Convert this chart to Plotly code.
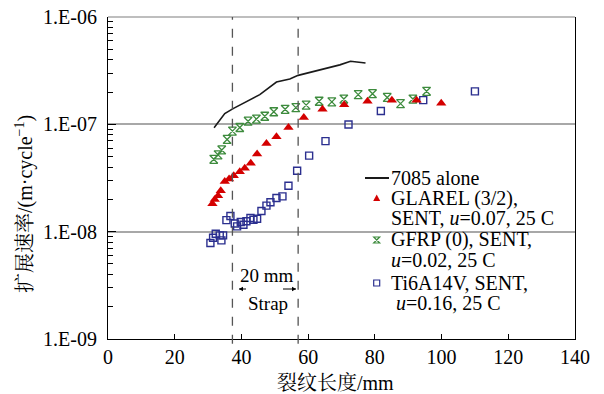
import plotly.graph_objects as go

# ---------------- data ----------------
x_7085 = [31.8, 35.0, 37.5, 45.5, 50.5, 54.5, 57.0, 64.5, 69.5, 72.7, 77.2]
y_7085 = [9.3e-8, 1.26e-7, 1.40e-7, 1.89e-7, 2.48e-7, 2.65e-7, 2.86e-7, 3.25e-7, 3.58e-7, 3.87e-7, 3.73e-7]

x_glarel = [31.3, 32.0, 33.0, 33.8, 35.0, 36.3, 37.7, 39.5, 41.0, 42.8, 44.7, 47.5, 50.5, 54.1,
            58.7, 64.3, 70.8, 77.8, 85.1, 92.5, 99.9]
y_glarel = [1.82e-8, 1.99e-8, 2.16e-8, 2.41e-8, 2.94e-8, 3.09e-8, 3.31e-8, 3.61e-8, 3.90e-8, 4.34e-8,
            5.30e-8, 6.64e-8, 7.66e-8, 9.34e-8, 1.16e-7, 1.38e-7, 1.52e-7, 1.64e-7, 1.68e-7, 1.68e-7, 1.57e-7]

x_gfrp = [31.7, 33.0, 34.1, 35.7, 37.3, 39.5, 42.0, 44.5, 47.0, 49.7, 53.1, 56.3, 59.4, 63.3,
          67.1, 70.7, 75.0, 79.3, 83.7, 87.7, 91.4, 95.5]
y_gfrp = [4.72e-8, 5.19e-8, 5.77e-8, 7.23e-8, 8.65e-8, 9.34e-8, 1.07e-7, 1.12e-7, 1.19e-7, 1.31e-7,
          1.38e-7, 1.43e-7, 1.51e-7, 1.64e-7, 1.62e-7, 1.72e-7, 1.89e-7, 1.93e-7, 1.78e-7, 1.56e-7,
          1.72e-7, 2.03e-7]

x_ti = [30.7, 31.5, 32.3, 33.5, 34.0, 34.5, 35.5, 36.7, 38.0, 38.7, 39.8, 40.6, 41.5, 42.7, 43.6,
        44.7, 46.0, 47.5, 48.7, 50.5, 52.3, 54.1, 56.7, 60.3, 65.2, 72.1, 81.8, 94.5, 110.0]
y_ti = [7.84e-9, 8.77e-9, 9.55e-9, 9.23e-9, 8.29e-9, 9.23e-9, 1.28e-8, 1.40e-8, 1.19e-8, 1.12e-8,
        1.23e-8, 1.16e-8, 1.25e-8, 1.34e-8, 1.29e-8, 1.32e-8, 1.56e-8, 1.75e-8, 1.88e-8, 2.06e-8,
        2.13e-8, 2.68e-8, 3.70e-8, 5.11e-8, 6.98e-8, 9.95e-8, 1.33e-7, 1.68e-7, 2.03e-7]

strap_edges = [37.3, 57.0]

x_ticks = [0, 20, 40, 60, 80, 100, 120, 140]
y_ticks = [1e-9, 1e-8, 1e-7, 1e-6]
y_ticktext = ["1.E-09", "1.E-08", "1.E-07", "1.E-06"]

legend_lines = [
    "7085 alone",
    "GLAREL (3/2),",
    "SENT, <i>u</i>=0.07, 25 C",
    "GFRP (0), SENT,",
    "<i>u</i>=0.02, 25 C",
    "Ti6A14V, SENT,",
    " <i>u</i>=0.16, 25 C",
]

# ---------------- layout helpers ----------------
OFF = 8                      # page (body) margin around the figure
W, H = 604 - OFF, 394 - OFF
ML, MR, MT, MB = 100, 29, 9, 55
PW, PH = W - ML - MR, H - MT - MB


def px(xp):
    """absolute page x pixel -> paper x"""
    return (xp - OFF - ML) / PW


def py(yp):
    """absolute page y pixel -> paper y"""
    return (OFF + MT + PH - yp) / PH


SERIF = "Liberation Serif, Times New Roman, serif"
RED = "#d40000"
GREEN = "#3d8b3d"
BLUE = "#2b2f8f"
GRID = "#a8a8a8"

fig = go.Figure()
fig.add_trace(go.Scatter(x=x_7085, y=y_7085, mode="lines",
                         line=dict(color="#1a1a1a", width=1.6)))
fig.add_trace(go.Scatter(x=x_gfrp, y=y_gfrp, mode="markers",
                         marker=dict(symbol="hourglass-open", size=8, color=GREEN,
                                     line=dict(color=GREEN, width=1.3))))
fig.add_trace(go.Scatter(x=x_ti, y=y_ti, mode="markers",
                         marker=dict(symbol="square-open", size=7, color=BLUE,
                                     line=dict(color=BLUE, width=1.4))))
fig.add_trace(go.Scatter(x=x_glarel, y=y_glarel, mode="markers",
                         marker=dict(symbol="triangle-up", size=9, color=RED,
                                     line=dict(width=0))))

minor_vals = [m * 10 ** e for e in (-9, -8, -7) for m in range(2, 10)]

fig.update_layout(
    width=W, height=H,
    margin=dict(l=ML, r=MR, t=MT, b=MB, autoexpand=False),
    paper_bgcolor="white", plot_bgcolor="white",
    showlegend=False,
    font=dict(family=SERIF, size=20, color="black"),
    xaxis=dict(range=[0, 140], tickvals=x_ticks, ticks="inside", ticklen=5,
               tickcolor="black", showline=True, linecolor="black", linewidth=1,
               showgrid=False, zeroline=False, mirror=False,
               ticklabeloverflow="allow",
               tickfont=dict(family=SERIF, size=20)),
    yaxis=dict(type="log", range=[-9.00001, -5.99999], tickvals=y_ticks, ticktext=y_ticktext,
               ticks="inside", ticklen=8, tickcolor="black",
               showline=True, linecolor="black", linewidth=1, mirror=True,
               showgrid=True, gridcolor=GRID, gridwidth=1.5,
               ticklabelstandoff=6, ticklabeloverflow="allow",
               minor=dict(tickvals=minor_vals, ticks="inside", ticklen=5,
                          tickcolor="black", showgrid=False),
               tickfont=dict(family=SERIF, size=20)),
)

# gray top border of the plot area (1.E-06 grid line)
fig.add_shape(type="line", xref="paper", yref="paper", x0=0, x1=1, y0=1, y1=1,
              line=dict(color=GRID, width=1.5), layer="below")

# strap edges (dashed verticals)
for xe in strap_edges:
    fig.add_shape(type="line", xref="x", yref="paper", x0=xe, x1=xe, y0=-0.015, y1=1,
                  line=dict(color="#555555", width=1.3, dash="dash"))

# axis titles
CJK = SERIF + ", Noto Serif CJK SC, Noto Sans CJK SC"
fig.add_annotation(text="裂纹长度/mm", xref="paper", yref="paper", x=px(335), y=py(383),
                   showarrow=False, font=dict(family=CJK, size=20),
                   xanchor="center", yanchor="middle")
fig.add_annotation(text="扩展速率/(m·cycle<sup>−1</sup>)", xref="paper", yref="paper",
                   x=px(24), y=py(204), textangle=-90, showarrow=False,
                   font=dict(family=CJK, size=20),
                   xanchor="center", yanchor="middle")

# strap annotation
fig.add_annotation(text="20 mm", xref="paper", yref="paper", x=px(267), y=py(275),
                   showarrow=False, font=dict(size=19), xanchor="center", yanchor="middle")
fig.add_annotation(text="Strap", xref="paper", yref="paper", x=px(268), y=py(303),
                   showarrow=False, font=dict(size=19), xanchor="center", yanchor="middle")

# small arrows (shapes)
ARW_Y = py(289)
fig.add_shape(type="line", xref="paper", yref="paper", x0=px(239), x1=px(246),
              y0=ARW_Y, y1=ARW_Y, line=dict(color="black", width=1))
fig.add_shape(type="path", xref="paper", yref="paper", xsizemode="pixel", ysizemode="pixel",
              xanchor=px(239), yanchor=ARW_Y, path="M0,0 L4,2.2 L4,-2.2 Z",
              fillcolor="black", line=dict(width=0))
fig.add_shape(type="line", xref="paper", yref="paper", x0=px(283), x1=px(296),
              y0=ARW_Y, y1=ARW_Y, line=dict(color="black", width=1))
fig.add_shape(type="path", xref="paper", yref="paper", xsizemode="pixel", ysizemode="pixel",
              xanchor=px(296), yanchor=ARW_Y, path="M0,0 L-4,2.2 L-4,-2.2 Z",
              fillcolor="black", line=dict(width=0))

# custom legend
leg_y = [178, 198, 218, 239, 260, 283, 303]
for t, yy in zip(legend_lines, leg_y):
    fig.add_annotation(text=t, xref="paper", yref="paper", x=px(389), y=py(yy),
                       showarrow=False, font=dict(family=SERIF, size=20),
                       xanchor="left", yanchor="middle")

fig.add_shape(type="line", xref="paper", yref="paper", x0=px(365), x1=px(389),
              y0=py(178), y1=py(178), line=dict(color="#1a1a1a", width=2))
fig.add_shape(type="path", xref="paper", yref="paper", xsizemode="pixel", ysizemode="pixel",
              xanchor=px(376.7), yanchor=py(198), path="M-3.5,-3 L3.5,-3 L0,3.5 Z",
              fillcolor=RED, line=dict(width=0))
fig.add_shape(type="path", xref="paper", yref="paper", xsizemode="pixel", ysizemode="pixel",
              xanchor=px(376.7), yanchor=py(240), path="M-3,3 L3,3 L-3,-3 L3,-3 Z",
              line=dict(color=GREEN, width=1.2))
fig.add_shape(type="rect", xref="paper", yref="paper", xsizemode="pixel", ysizemode="pixel",
              xanchor=px(376.7), yanchor=py(283), x0=-3, x1=3, y0=-3, y1=3,
              line=dict(color=BLUE, width=1.2))

fig.write_html("out.html")
